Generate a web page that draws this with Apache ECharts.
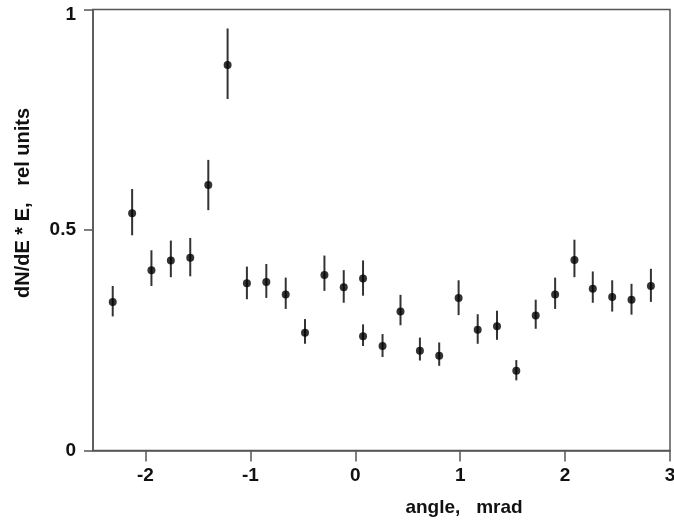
<!DOCTYPE html>
<html>
<head>
<meta charset="utf-8">
<script src="https://cdn.jsdelivr.net/npm/echarts@6/dist/echarts.min.js"></script>
<style>html,body{margin:0;padding:0;background:#fff;}#c{width:674px;height:522px;}</style>
</head>
<body>
<div id="c"></div>
<script>
var angles = [-2.312,-2.127,-1.943,-1.758,-1.573,-1.401,-1.217,-1.033,-0.848,-0.663,-0.479,-0.294,-0.110,0.074,0.074,0.260,0.431,0.616,0.800,0.985,1.167,1.351,1.535,1.720,1.905,2.089,2.264,2.449,2.633,2.818];
var values = [0.337,0.538,0.409,0.431,0.437,0.602,0.874,0.379,0.382,0.354,0.267,0.398,0.370,0.390,0.259,0.237,0.315,0.226,0.215,0.346,0.274,0.282,0.181,0.306,0.354,0.432,0.367,0.348,0.342,0.373];
var errLow = [0.304,0.488,0.373,0.393,0.395,0.545,0.797,0.343,0.346,0.321,0.242,0.362,0.335,0.351,0.237,0.212,0.284,0.204,0.192,0.307,0.242,0.251,0.159,0.276,0.321,0.393,0.335,0.315,0.308,0.337];
var errHigh = [0.373,0.593,0.454,0.476,0.482,0.659,0.957,0.417,0.423,0.392,0.298,0.442,0.409,0.431,0.286,0.264,0.353,0.256,0.245,0.386,0.309,0.317,0.205,0.342,0.392,0.478,0.406,0.386,0.378,0.412];
var xTicks = [-2,-1,0,1,2,3];
var yTicks = [0,0.5,1];
var xTitle = 'angle,   mrad';
var yTitle = 'dN/dE * E,   rel units';

var points = angles.map(function(a,i){return [a, values[i]];});
var bars = angles.map(function(a,i){return [a, errLow[i], errHigh[i]];});

var font = 'Liberation Sans, Arial, sans-serif';
var axisColor = '#555';
var chart = echarts.init(document.getElementById('c'));
chart.setOption({
  animation: false,
  backgroundColor: '#fff',
  grid: {left: 93, right: 4, top: 9.5, bottom: 71.5, outerBoundsMode: 'none', containLabel: false, show: true, borderColor: axisColor, borderWidth: 1.5, backgroundColor: 'transparent'},
  xAxis: {
    type: 'value', min: -2.5, max: 3,
    splitLine: {show: false},
    axisLine: {show: true, onZero: false, lineStyle: {color: axisColor, width: 1.5}},
    axisTick: {show: true, length: 11, inside: false, customValues: xTicks, lineStyle: {color: axisColor, width: 1.5}},
    axisLabel: {customValues: xTicks, margin: 16, color: '#111', fontFamily: font, fontSize: 19, fontWeight: 'bold', hideOverlap: false},
    name: xTitle, nameLocation: 'middle', nameGap: 48,
    nameTextStyle: {color: '#111', fontFamily: font, fontSize: 19, fontWeight: 'bold', padding: [0,0,0,165]}
  },
  yAxis: {
    type: 'value', min: 0, max: 1, interval: 0.5,
    splitLine: {show: false},
    axisLine: {show: true, onZero: false, lineStyle: {color: axisColor, width: 1.5}},
    axisTick: {show: true, length: 9, inside: false, customValues: yTicks, lineStyle: {color: axisColor, width: 1.5}},
    axisLabel: {
      customValues: yTicks, margin: 17, color: '#111', fontFamily: font, fontSize: 19, fontWeight: 'bold',
      formatter: function(v){ return v === 1 ? '{t|1}' : String(v); },
      rich: {t: {padding: [10,0,0,0], fontFamily: font, fontSize: 19, fontWeight: 'bold', color: '#111'}}
    },
    name: yTitle, nameLocation: 'middle', nameGap: 60,
    nameTextStyle: {color: '#111', fontFamily: font, fontSize: 20, fontWeight: 'bold', padding: [0,0,0,54]}
  },
  series: [
    {
      type: 'custom',
      data: bars,
      z: 2,
      renderItem: function(params, api){
        var lo = api.coord([api.value(0), api.value(1)]);
        var hi = api.coord([api.value(0), api.value(2)]);
        return {type: 'line', shape: {x1: lo[0], y1: lo[1], x2: hi[0], y2: hi[1]}, style: {stroke: '#333', lineWidth: 2}};
      }
    },
    {
      type: 'scatter',
      data: points,
      symbol: 'circle',
      symbolSize: 8,
      z: 3,
      itemStyle: {color: '#000'}
    }
  ]
});
</script>
</body>
</html>
